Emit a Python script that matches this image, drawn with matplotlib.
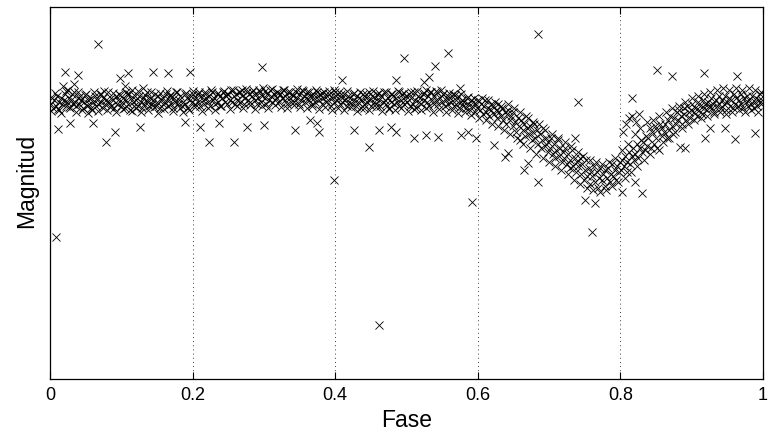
import matplotlib
matplotlib.use("Agg")
import matplotlib.pyplot as plt
from matplotlib.ticker import FuncFormatter

plt.rcParams['font.family'] = ['Liberation Sans', 'DejaVu Sans']

flat_points = [
    (0.001,12.02),(0.003,11.99),(0.004,12.04),(0.006,12.00),(0.008,12.03),(0.010,11.98),(0.012,12.01),(0.013,12.05),(0.015,11.99),(0.017,12.02),(0.019,12.00),
    (0.021,11.97),(0.023,12.03),(0.024,12.01),(0.026,11.99),(0.028,12.04),(0.030,12.00),(0.032,12.02),(0.033,11.96),(0.035,12.01),(0.037,12.03),(0.039,11.99),
    (0.041,12.02),(0.042,11.98),(0.044,12.00),(0.046,12.04),(0.048,12.01),(0.050,11.97),(0.052,12.03),(0.053,12.00),(0.055,12.02),(0.057,11.99),(0.059,12.05),
    (0.061,12.01),(0.063,11.98),(0.064,12.03),(0.066,12.00),(0.068,12.02),(0.070,11.97),(0.072,12.01),(0.074,12.04),(0.075,11.99),(0.077,12.02),(0.079,12.00),
    (0.081,11.96),(0.083,12.01),(0.085,12.03),(0.086,11.99),(0.088,12.00),(0.090,12.04),(0.092,11.98),(0.094,12.02),(0.096,12.00),(0.097,11.97),(0.099,12.03),
    (0.101,12.01),(0.103,11.99),(0.105,12.04),(0.107,12.00),(0.108,11.97),(0.110,12.02),(0.112,12.05),(0.114,11.99),(0.116,12.01),(0.118,12.03),(0.119,11.98),
    (0.121,12.00),(0.123,12.03),(0.125,11.98),(0.127,12.01),(0.129,12.04),(0.130,11.99),(0.132,12.02),(0.134,12.00),(0.136,11.96),(0.138,12.01),(0.139,12.03),
    (0.141,11.99),(0.143,12.02),(0.145,12.00),(0.147,11.97),(0.149,12.03),(0.150,12.01),(0.152,11.98),(0.154,12.04),(0.156,12.00),(0.158,12.02),(0.159,11.99),
    (0.161,12.01),(0.163,11.97),(0.165,12.03),(0.167,12.00),(0.169,11.98),(0.170,12.02),(0.172,12.04),(0.174,11.99),(0.176,12.01),(0.178,11.96),(0.179,12.02),
    (0.181,12.00),(0.183,11.98),(0.185,12.03),(0.187,12.01),(0.189,11.97),(0.190,12.02),(0.192,11.99),(0.194,12.04),(0.196,12.00),(0.198,11.98),(0.199,12.01),
    (0.201,11.97),(0.203,12.02),(0.205,11.99),(0.207,12.01),(0.209,11.96),(0.210,12.03),(0.212,11.98),(0.214,12.00),(0.216,12.02),(0.218,11.97),(0.219,11.99),
    (0.221,12.01),(0.223,11.98),(0.225,12.03),(0.227,11.96),(0.229,12.00),(0.230,11.99),(0.232,12.02),(0.234,11.97),(0.236,12.01),(0.238,11.98),(0.239,12.03),
    (0.241,11.99),(0.243,11.96),(0.245,12.01),(0.247,11.98),(0.249,12.02),(0.250,11.97),(0.252,12.00),(0.254,11.95),(0.256,12.01),(0.258,11.98),(0.259,12.02),
    (0.261,11.97),(0.263,12.00),(0.265,11.96),(0.267,12.01),(0.269,11.98),(0.270,11.95),(0.272,12.02),(0.274,11.99),(0.276,11.96),(0.278,12.00),(0.279,11.97),
    (0.281,12.01),(0.283,11.98),(0.285,11.95),(0.287,12.00),(0.289,11.97),(0.290,12.02),(0.292,11.99),(0.294,11.96),(0.296,12.01),(0.298,11.98),(0.299,11.94),
    (0.301,11.99),(0.303,12.02),(0.305,11.97),(0.307,12.00),(0.309,11.95),(0.310,11.98),(0.312,12.01),(0.314,11.97),(0.316,12.00),(0.318,11.96),(0.319,11.99),
    (0.321,12.01),(0.323,11.97),(0.325,11.99),(0.327,11.95),(0.329,12.00),(0.330,11.98),(0.332,12.02),(0.334,11.96),(0.336,11.99),(0.338,12.01),(0.339,11.97),
    (0.341,11.98),(0.343,12.01),(0.345,11.96),(0.347,11.99),(0.349,12.02),(0.350,11.97),(0.352,12.00),(0.354,11.95),(0.356,11.98),(0.358,12.01),(0.359,11.99),
    (0.361,11.96),(0.363,12.00),(0.365,11.98),(0.367,12.02),(0.369,11.97),(0.370,11.99),(0.372,12.01),(0.374,11.96),(0.376,11.98),(0.378,12.00),(0.379,11.97),
    (0.381,12.02),(0.383,11.99),(0.385,11.96),(0.387,12.01),(0.389,11.98),(0.390,12.00),(0.392,11.97),(0.394,12.03),(0.396,11.99),(0.398,11.95),(0.399,12.01),
    (0.401,11.98),(0.403,12.00),(0.405,11.96),(0.407,12.02),(0.409,11.99),(0.410,12.01),(0.412,11.97),(0.414,12.00),(0.416,12.03),(0.418,11.98),(0.419,12.01),
    (0.421,11.99),(0.423,12.02),(0.425,11.97),(0.427,12.00),(0.429,12.03),(0.430,11.98),(0.432,12.01),(0.434,11.99),(0.436,12.04),(0.438,12.00),(0.439,11.97),
    (0.441,12.02),(0.443,11.99),(0.445,12.01),(0.447,11.96),(0.449,12.00),(0.450,12.03),(0.452,11.98),(0.454,12.01),(0.456,11.99),(0.458,12.02),(0.459,11.97),
    (0.461,12.00),(0.463,12.03),(0.465,11.98),(0.467,12.01),(0.469,11.96),(0.470,12.00),(0.472,12.02),(0.474,11.99),(0.476,12.04),(0.478,11.97),(0.479,12.01),
    (0.481,11.98),(0.483,12.02),(0.485,11.99),(0.487,12.01),(0.489,11.96),(0.490,12.03),(0.492,12.00),(0.494,11.97),(0.496,12.02),(0.498,12.00),(0.499,11.98),
    (0.501,12.01),(0.503,11.97),(0.505,12.03),(0.507,11.99),(0.509,12.02),(0.510,11.96),(0.512,12.00),(0.514,12.04),(0.516,11.98),(0.518,12.01),(0.519,11.99),
    (0.521,12.02),(0.523,11.97),(0.525,12.00),(0.527,11.95),(0.529,12.01),(0.530,11.98),(0.532,12.03),(0.534,11.96),(0.536,12.00),(0.538,12.02),(0.539,11.98),
    (0.541,12.00),(0.543,11.96),(0.545,12.02),(0.547,11.99),(0.549,11.95),(0.550,12.01),(0.552,11.97),(0.554,12.03),(0.556,12.00),(0.558,11.98),(0.559,12.02),
    (0.561,11.99),(0.563,12.01),(0.565,11.97),(0.567,12.03),(0.569,12.00),(0.570,12.02),(0.572,11.98),(0.574,12.04),(0.576,12.01),(0.578,12.00),(0.579,12.03),
    (0.581,12.01),(0.583,12.04),(0.585,11.99),(0.587,12.02),(0.589,12.05),(0.590,12.00),(0.592,12.03),(0.594,12.01),(0.596,12.06),(0.598,12.02),(0.599,12.04),
]

flat_wide_points = [
    (0.002,12.055),(0.007,11.965),(0.011,12.045),(0.016,12.065),(0.022,11.955),(0.027,12.035),(0.031,11.97),(0.036,12.06),(0.040,11.96),(0.045,12.05),
    (0.049,11.975),(0.054,12.065),(0.058,12.04),(0.062,11.96),(0.067,12.055),(0.071,11.97),(0.076,11.955),(0.080,12.05),(0.084,12.035),(0.089,11.965),
    (0.093,12.06),(0.098,11.975),(0.102,12.045),(0.106,11.96),(0.111,11.97),(0.115,12.055),(0.120,12.04),(0.124,11.955),(0.128,12.06),(0.133,11.975),
    (0.137,12.05),(0.142,11.96),(0.146,12.035),(0.151,12.065),(0.155,11.965),(0.160,12.045),(0.164,11.955),(0.168,11.975),(0.173,12.055),(0.177,11.96),
    (0.182,12.04),(0.186,12.06),(0.191,11.965),(0.195,12.05),(0.200,11.955),(0.204,12.035),(0.208,11.97),(0.213,12.055),(0.217,11.96),(0.222,12.04),
    (0.226,11.95),(0.231,12.05),(0.235,11.965),(0.240,12.03),(0.244,11.955),(0.248,11.97),(0.253,12.045),(0.257,11.95),(0.262,12.03),(0.266,11.96),
    (0.271,12.04),(0.275,11.945),(0.280,12.025),(0.284,11.96),(0.288,12.045),(0.293,11.95),(0.297,12.03),(0.302,11.955),(0.306,12.04),(0.311,11.945),
    (0.315,12.025),(0.320,11.965),(0.324,12.035),(0.328,11.95),(0.333,12.04),(0.337,11.96),(0.342,12.025),(0.346,11.945),(0.351,12.035),(0.355,11.955),
    (0.360,12.04),(0.364,11.96),(0.368,12.03),(0.373,11.95),(0.377,12.045),(0.382,11.965),(0.386,12.035),(0.391,11.955),(0.395,12.05),(0.400,11.96),
    (0.404,12.04),(0.408,11.97),(0.413,12.05),(0.417,11.955),(0.422,12.035),(0.426,11.965),(0.431,12.055),(0.435,11.96),(0.440,12.04),(0.444,11.97),
    (0.448,12.05),(0.453,11.955),(0.457,12.035),(0.462,11.965),(0.466,12.055),(0.471,11.96),(0.475,12.045),(0.480,11.97),(0.484,12.05),(0.488,11.955),
    (0.493,12.04),(0.497,11.965),(0.502,12.055),(0.506,11.96),(0.511,12.045),(0.515,11.955),(0.520,12.05),(0.524,11.965),(0.528,12.04),(0.533,11.96),
    (0.537,12.06),(0.542,11.955),(0.546,12.045),(0.551,11.97),(0.555,12.06),(0.560,11.965),(0.564,12.05),(0.568,11.975),(0.573,12.065),(0.577,11.97),
    (0.582,12.06),(0.586,11.985),(0.591,12.075),(0.595,11.99),
]

dip_points = [
    (0.601,12.00),(0.603,12.05),(0.605,12.02),(0.607,12.07),(0.609,12.03),(0.610,12.00),(0.612,12.06),(0.614,12.04),(0.616,12.08),(0.618,12.02),(0.619,12.05),
    (0.621,12.03),(0.623,12.07),(0.625,12.05),(0.627,12.09),(0.629,12.02),(0.630,12.06),(0.632,12.08),(0.634,12.04),(0.636,12.10),(0.638,12.06),(0.639,12.12),
    (0.641,12.07),(0.643,12.05),(0.645,12.10),(0.647,12.08),(0.649,12.13),(0.650,12.06),(0.652,12.11),(0.654,12.16),(0.656,12.09),(0.658,12.13),(0.659,12.20),
    (0.661,12.10),(0.663,12.15),(0.665,12.12),(0.667,12.18),(0.669,12.14),(0.670,12.09),(0.672,12.17),(0.674,12.13),(0.676,12.20),(0.678,12.16),(0.679,12.12),
    (0.681,12.19),(0.683,12.15),(0.685,12.22),(0.687,12.17),(0.689,12.24),(0.690,12.20),(0.692,12.14),(0.694,12.23),(0.696,12.19),(0.698,12.26),(0.699,12.21),
    (0.701,12.24),(0.703,12.19),(0.705,12.27),(0.707,12.22),(0.709,12.29),(0.710,12.25),(0.712,12.20),(0.714,12.28),(0.716,12.24),(0.718,12.31),(0.719,12.26),
    (0.721,12.29),(0.723,12.24),(0.725,12.32),(0.727,12.27),(0.729,12.34),(0.730,12.30),(0.732,12.25),(0.734,12.33),(0.736,12.29),(0.738,12.36),(0.739,12.31),
    (0.741,12.33),(0.743,12.29),(0.745,12.37),(0.747,12.32),(0.749,12.40),(0.750,12.35),(0.752,12.30),(0.754,12.38),(0.756,12.34),(0.758,12.42),(0.759,12.36),
    (0.761,12.38),(0.763,12.33),(0.765,12.41),(0.767,12.36),(0.769,12.44),(0.770,12.39),(0.772,12.34),(0.774,12.40),(0.776,12.37),(0.778,12.43),(0.779,12.35),
    (0.781,12.39),(0.783,12.34),(0.785,12.41),(0.787,12.37),(0.789,12.32),(0.790,12.38),(0.792,12.35),(0.794,12.40),(0.796,12.33),(0.798,12.36),(0.799,12.31),
    (0.801,12.35),(0.803,12.30),(0.805,12.33),(0.807,12.28),(0.809,12.36),(0.810,12.31),(0.812,12.26),(0.814,12.32),(0.816,12.28),(0.818,12.24),(0.819,12.30),
    (0.804,12.16),(0.808,12.12),(0.812,12.09),(0.817,12.08),(0.822,12.11),(0.826,12.07),
    (0.821,12.27),(0.823,12.22),(0.825,12.29),(0.827,12.24),(0.829,12.20),(0.830,12.26),(0.832,12.21),(0.834,12.25),(0.836,12.18),(0.838,12.23),(0.839,12.19),
    (0.841,12.14),(0.843,12.24),(0.845,12.16),(0.847,12.22),(0.849,12.13),(0.850,12.19),(0.852,12.15),(0.854,12.25),(0.856,12.12),(0.858,12.18),(0.859,12.14),
    (0.861,12.16),(0.863,12.12),(0.865,12.19),(0.867,12.10),(0.869,12.15),(0.870,12.08),(0.872,12.13),(0.874,12.17),(0.876,12.09),(0.878,12.12),(0.879,12.06),
    (0.881,12.10),(0.883,12.05),(0.885,12.08),(0.887,12.12),(0.889,12.04),(0.890,12.07),(0.892,12.10),(0.894,12.03),(0.896,12.06),(0.898,12.09),(0.899,12.05),
    (0.901,12.02),(0.903,12.06),(0.905,12.04),(0.907,12.08),(0.909,12.01),(0.910,12.05),(0.912,12.03),(0.914,12.07),(0.916,12.00),(0.918,12.04),(0.919,12.02),
    (0.921,12.05),(0.923,12.01),(0.925,12.03),(0.927,11.99),(0.929,12.04),(0.930,12.02),(0.932,12.06),(0.934,12.00),(0.936,12.03),(0.938,11.98),(0.939,12.02),
    (0.941,12.04),(0.943,12.00),(0.945,12.02),(0.947,11.98),(0.949,12.05),(0.950,12.01),(0.952,11.99),(0.954,12.03),(0.956,12.00),(0.958,12.04),(0.959,11.97),
    (0.961,12.02),(0.963,11.99),(0.965,12.03),(0.967,12.00),(0.969,11.97),(0.970,12.02),(0.972,12.04),(0.974,11.99),(0.976,12.01),(0.978,11.98),(0.979,12.03),
    (0.981,12.00),(0.983,12.02),(0.985,11.98),(0.987,12.04),(0.989,12.01),(0.990,11.99),(0.992,12.03),(0.994,12.00),(0.996,11.97),(0.998,12.02),(0.999,12.00),
]

dip_wide_points = [
    (0.602,12.09),(0.606,11.99),(0.611,12.10),(0.615,12.00),(0.620,12.12),(0.624,12.01),(0.628,12.13),(0.633,12.03),(0.637,12.15),(0.642,12.02),
    (0.646,12.17),(0.651,12.04),(0.655,12.19),(0.660,12.06),(0.664,12.22),(0.668,12.08),(0.673,12.24),(0.677,12.11),(0.682,12.27),(0.686,12.12),
    (0.691,12.29),(0.695,12.15),(0.700,12.31),(0.704,12.17),(0.708,12.33),(0.713,12.19),(0.717,12.35),(0.722,12.21),(0.726,12.37),(0.731,12.23),
    (0.735,12.40),(0.740,12.26),(0.744,12.42),(0.748,12.28),(0.753,12.44),(0.757,12.30),(0.762,12.45),(0.766,12.31),(0.771,12.46),(0.775,12.32),
    (0.780,12.45),(0.784,12.31),(0.788,12.43),(0.793,12.29),(0.797,12.41),(0.802,12.25),(0.806,12.39),(0.811,12.22),(0.815,12.36),(0.820,12.17),
    (0.824,12.33),(0.828,12.14),(0.833,12.30),(0.837,12.11),(0.842,12.27),(0.846,12.10),(0.851,12.24),(0.855,12.08),(0.860,12.21),(0.864,12.06),
    (0.868,12.19),(0.873,12.04),(0.877,12.16),(0.882,12.03),(0.886,12.14),(0.891,12.01),(0.895,12.12),(0.900,11.99),(0.904,12.10),(0.909,11.98),
    (0.913,12.09),(0.917,11.97),(0.922,12.08),(0.926,11.96),(0.931,12.07),(0.935,11.95),(0.940,12.06),(0.944,11.94),(0.948,12.07),(0.953,11.95),
    (0.957,12.06),(0.962,11.94),(0.966,12.05),(0.971,11.95),(0.975,12.06),(0.980,11.94),(0.984,12.05),(0.989,11.95),(0.993,12.06),(0.997,11.96),
]

outlier_points = [
    (0.067,11.72),(0.008,12.685),(0.461,13.125),(0.398,12.40),(0.592,12.51),(0.684,11.67),(0.761,12.66),
    (0.021,11.86),(0.039,11.875),(0.109,11.865),(0.098,11.89),(0.011,12.145),(0.028,12.115),(0.078,12.21),(0.091,12.16),(0.060,12.115),
    (0.018,11.93),(0.025,11.95),(0.034,11.92),(0.105,11.93),(0.115,11.95),(0.130,11.94),
    (0.144,11.86),(0.165,11.865),(0.196,11.86),(0.126,12.135),(0.189,12.11),(0.211,12.135),(0.223,12.21),(0.237,12.115),
    (0.297,11.835),(0.277,12.135),(0.300,12.125),(0.258,12.21),(0.344,12.15),(0.365,12.10),
    (0.497,11.79),(0.427,12.15),(0.462,12.15),(0.479,12.135),(0.486,12.16),(0.448,12.235),(0.374,12.115),(0.378,12.16),
    (0.409,11.90),(0.486,11.90),(0.575,11.94),
    (0.559,11.765),(0.540,11.83),(0.532,11.885),(0.525,11.91),(0.510,12.19),(0.528,12.175),(0.545,12.185),
    (0.577,12.175),(0.587,12.16),(0.598,12.19),(0.623,12.225),
    (0.740,12.01),(0.737,12.19),(0.684,12.41),(0.852,11.85),(0.873,11.88),(0.918,11.865),(0.964,11.88),(0.817,11.99),
    (0.919,12.19),(0.961,12.195),(0.989,12.165),
    (0.803,12.46),(0.821,12.41),(0.831,12.465),(0.926,12.14),(0.947,12.14),(0.884,12.235),(0.891,12.24),
    (0.638,12.285),(0.642,12.265),(0.665,12.35),(0.670,12.315),(0.750,12.50),(0.764,12.515),
]

x_ticks = [0, 0.2, 0.4, 0.6, 0.8, 1.0]

all_points = flat_points + flat_wide_points + dip_points + dip_wide_points + outlier_points
phase = [p for p, m in all_points]
mag = [m for p, m in all_points]

fig = plt.figure(figsize=(7.69, 4.47), dpi=100)
ax = fig.add_axes([0.065, 0.152, 0.927, 0.832])

ax.plot(phase, mag, linestyle='none', marker='x', color='black',
        markersize=6, markeredgewidth=0.6)

ax.set_xlim(0, 1)
ax.set_ylim(13.395, 11.535)
ax.set_xticks(x_ticks)
ax.xaxis.set_major_formatter(FuncFormatter(lambda v, pos: f"{v:g}"))
ax.set_yticks([])
ax.tick_params(axis='x', direction='in', top=True, bottom=True, length=5,
               width=0.8, labelsize=13, pad=6, colors='black')
ax.grid(axis='x', linestyle=(0, (1, 4)), color='black', linewidth=0.6)
for s in ax.spines.values():
    s.set_linewidth(0.9)
    s.set_color('black')

ax.set_xlabel('Fase', fontsize=16.5, labelpad=3)
ax.set_ylabel('Magnitud', fontsize=16.5)
ax.yaxis.set_label_coords(-0.016, 0.532)

fig.savefig('out.png', dpi=100)
